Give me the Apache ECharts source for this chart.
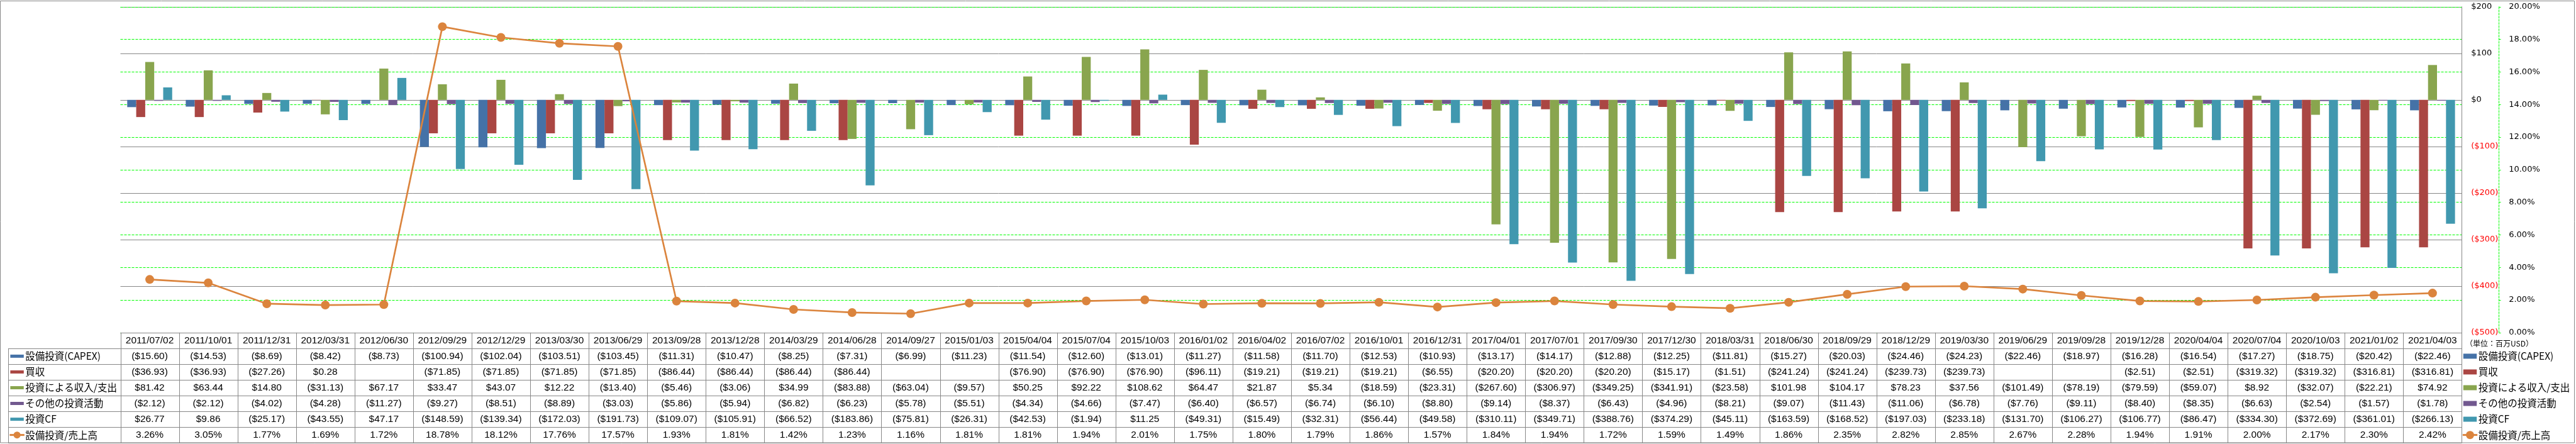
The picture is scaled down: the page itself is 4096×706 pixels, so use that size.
<!DOCTYPE html>
<html><head><meta charset="utf-8">
<script src="https://cdn.jsdelivr.net/npm/echarts@6/dist/echarts.min.js"></script>
<style>html,body{margin:0;padding:0;background:#fff;}#c{width:4096px;height:706px;}</style>
</head><body><div id="c"></div>
<script>
// ---------- data ----------
const categories = ['2011/07/02','2011/10/01','2011/12/31','2012/03/31','2012/06/30','2012/09/29','2012/12/29','2013/03/30','2013/06/29','2013/09/28',
  '2013/12/28','2014/03/29','2014/06/28','2014/09/27','2015/01/03','2015/04/04','2015/07/04','2015/10/03','2016/01/02','2016/04/02',
  '2016/07/02','2016/10/01','2016/12/31','2017/04/01','2017/07/01','2017/09/30','2017/12/30','2018/03/31','2018/06/30','2018/09/29',
  '2018/12/29','2019/03/30','2019/06/29','2019/09/28','2019/12/28','2020/04/04','2020/07/04','2020/10/03','2021/01/02','2021/04/03'];
const capex = [-15.60,-14.53,-8.69,-8.42,-8.73,-100.94,-102.04,-103.51,-103.45,-11.31,
  -10.47,-8.25,-7.31,-6.99,-11.23,-11.54,-12.60,-13.01,-11.27,-11.58,
  -11.70,-12.53,-10.93,-13.17,-14.17,-12.88,-12.25,-11.81,-15.27,-20.03,
  -24.46,-24.23,-22.46,-18.97,-16.28,-16.54,-17.27,-18.75,-20.42,-22.46];
const acquisitions = [-36.93,-36.93,-27.26,0.28,null,-71.85,-71.85,-71.85,-71.85,-86.44,
  -86.44,-86.44,-86.44,null,null,-76.90,-76.90,-76.90,-96.11,-19.21,
  -19.21,-19.21,-6.55,-20.20,-20.20,-20.20,-15.17,-1.51,-241.24,-241.24,
  -239.73,-239.73,null,null,-2.51,-2.51,-319.32,-319.32,-316.81,-316.81];
const investIncome = [81.42,63.44,14.80,-31.13,67.17,33.47,43.07,12.22,-13.40,-5.46,
  -3.06,34.99,-83.88,-63.04,-9.57,50.25,92.22,108.62,64.47,21.87,
  5.34,-18.59,-23.31,-267.60,-306.97,-349.25,-341.91,-23.58,101.98,104.17,
  78.23,37.56,-101.49,-78.19,-79.59,-59.07,8.92,-32.07,-22.21,74.92];
const otherInvest = [-2.12,-2.12,-4.02,-4.28,-11.27,-9.27,-8.51,-8.89,-3.03,-5.86,
  -5.94,-6.82,-6.23,-5.78,-5.51,-4.34,-4.66,-7.47,-6.40,-6.57,
  -6.74,-6.10,-8.80,-9.14,-8.37,-6.43,-4.96,-8.21,-9.07,-11.43,
  -11.06,-6.78,-7.76,-9.11,-8.40,-8.35,-6.63,-2.54,-1.57,-1.78];
const investCF = [26.77,9.86,-25.17,-43.55,47.17,-148.59,-139.34,-172.03,-191.73,-109.07,
  -105.91,-66.52,-183.86,-75.81,-26.31,-42.53,-1.94,11.25,-49.31,-15.49,
  -32.31,-56.44,-49.58,-310.11,-349.71,-388.76,-374.29,-45.11,-163.59,-168.52,
  -197.03,-233.18,-131.70,-106.27,-106.77,-86.47,-334.30,-372.69,-361.01,-266.13];
const capexRatio = [3.26,3.05,1.77,1.69,1.72,18.78,18.12,17.76,17.57,1.93,
  1.81,1.42,1.23,1.16,1.81,1.81,1.94,2.01,1.75,1.80,
  1.79,1.86,1.57,1.84,1.94,1.72,1.59,1.49,1.86,2.35,
  2.82,2.85,2.67,2.28,1.94,1.91,2.00,2.17,2.30,2.42];
const seriesNames = ['設備投資(CAPEX)','買収','投資による収入/支出','その他の投資活動','投資CF','設備投資/売上高'];
const unitLabel = '（単位：百万USD）';
const moneyAxis = {min:-500, max:200, interval:100};
const ratioAxis = {min:0, max:20, interval:2};

// ---------- style ----------
const colors = ['#4572A7','#AA4643','#89A54E','#71588F','#4198AF','#DB843D'];
const GRID = {left:191.5, top:10.8, width:3722.9, height:518};
const ROW_H = 25.05;
const TABLE_FONT = '"Liberation Sans",Arial,sans-serif';
const CJK_FONT = '"Noto Sans CJK JP","Noto Sans",sans-serif';
const GRAY = '#878787';

function fmtMoney(v){
  if (v === null || v === undefined) return '';
  return v < 0 ? '($' + (-v).toFixed(2) + ')' : '$' + v.toFixed(2);
}

const chart = echarts.init(document.getElementById('c'));
const barSeriesData = [capex, acquisitions, investIncome, otherInvest, investCF];
const series = barSeriesData.map((d, i) => ({
  name: seriesNames[i], type: 'bar', yAxisIndex: 0, data: d,
  barWidth: 14.3, barGap: '0%', itemStyle: {color: colors[i]}
}));
series.push({
  name: seriesNames[5], type: 'line', yAxisIndex: 1, data: capexRatio,
  symbol: 'circle', symbolSize: 14, z: 5,
  lineStyle: {color: colors[5], width: 2.7},
  itemStyle: {color: colors[5]}
});

chart.setOption({
  animation: false,
  grid: Object.assign({containLabel: false}, GRID),
  xAxis: {type: 'category', data: categories,
    axisLine: {show: false}, axisTick: {show: false}, axisLabel: {show: false}, splitLine: {show: false}},
  yAxis: [
    {type: 'value', position: 'right', min: moneyAxis.min, max: moneyAxis.max, interval: moneyAxis.interval,
      axisLine: {show: true, lineStyle: {color: GRAY, width: 1}}, axisTick: {show: false},
      axisLabel: {margin: 14.8, fontFamily: 'DejaVu Sans', fontSize: 13, color: '#000',
        formatter: v => v < 0 ? '{n|($' + (-v) + ')}' : '$' + v,
        rich: {n: {color: '#FF0000', fontFamily: 'DejaVu Sans', fontSize: 13}}},
      splitLine: {show: true, lineStyle: {color: GRAY, width: 1}}},
    {type: 'value', position: 'right', offset: 59.1, min: ratioAxis.min, max: ratioAxis.max, interval: ratioAxis.interval,
      axisLine: {show: true, lineStyle: {color: '#00FF00', width: 1, type: [3, 2]}},
      axisTick: {show: true, length: 3, inside: false, lineStyle: {color: '#00FF00'}},
      axisLabel: {margin: 15.7, fontFamily: 'DejaVu Sans', fontSize: 13, color: '#000',
        formatter: v => v.toFixed(2) + '%'},
      splitLine: {show: true, lineStyle: {color: '#00FF00', width: 1, type: [4, 2]}}}
  ],
  series: series
});

// ---------- data table + legends ----------
const els = [];
const c0 = chart.convertToPixel({xAxisIndex: 0}, 0);
const c1 = chart.convertToPixel({xAxisIndex: 0}, 1);
const colW = c1 - c0;
const tableTop = chart.convertToPixel({yAxisIndex: 0}, moneyAxis.min);
const plotLeft = GRID.left, plotRight = GRID.left + GRID.width;
const legendLeft = 13.2;
const nRows = 7;
const tableBottom = tableTop + nRows * ROW_H;
const crisp = v => Math.round(v) + 0.5;
function line(x1, y1, x2, y2, color, w, extra){
  els.push(Object.assign({type: 'line', shape: {x1, y1, x2, y2}, style: {stroke: color, lineWidth: w || 1}, silent: true}, extra || {}));
}
for (let r = 0; r <= nRows; r++) {
  const y = crisp(tableTop + r * ROW_H);
  line(r === 0 ? plotLeft : legendLeft, y, plotRight, y, GRAY, 1);
}
for (let k = 0; k <= categories.length; k++) {
  const x = crisp(plotLeft + k * colW);
  line(x, tableTop, x, tableBottom, GRAY, 1);
}
line(crisp(legendLeft), tableTop + ROW_H, crisp(legendLeft), tableBottom, GRAY, 1);

const rowsData = [capex, acquisitions, investIncome, otherInvest, investCF];
function text(t, x, y, font, align, color){
  els.push({type: 'text', silent: true, style: {text: t, x, y, font, align: align || 'center', verticalAlign: 'middle', fill: color || '#000'}});
}
const valFont = '15.5px ' + TABLE_FONT;
categories.forEach((cat, i) => {
  const cx = chart.convertToPixel({xAxisIndex: 0}, i);
  text(cat, cx, tableTop + ROW_H * 0.5, valFont);
  rowsData.forEach((arr, r) => text(fmtMoney(arr[i]), cx, tableTop + ROW_H * (r + 1.5), valFont));
  text(capexRatio[i].toFixed(2) + '%', cx, tableTop + ROW_H * 6.5, valFont);
});

const legFont = '15.5px ' + CJK_FONT;
function legendEntry(idx, keyX, keyW, barH, circR, textX, cy){
  if (idx < 5) {
    els.push({type: 'rect', silent: true, shape: {x: keyX, y: cy - barH / 2, width: keyW, height: barH}, style: {fill: colors[idx]}});
  } else {
    line(keyX - 1, cy, keyX + keyW + 1, cy, colors[5], 3);
    els.push({type: 'circle', silent: true, shape: {cx: keyX + keyW / 2, cy: cy, r: circR}, style: {fill: colors[5]}});
  }
  text(seriesNames[idx], textX, cy, legFont, 'left');
}
for (let i = 0; i < 6; i++) {
  const cy = tableTop + ROW_H * (i + 1.5);
  legendEntry(i, 16.4, 21.4, 5, 5.5, 40.3, cy);
  legendEntry(i, 3916.8, 21.4, 8, 6.5, 3940.7, cy);
}
text(unitLabel, 3920, tableTop + ROW_H * 0.72, '12px ' + CJK_FONT, 'left');

els.push({type: 'rect', silent: true, shape: {x: 0.5, y: 1.5, width: 4093, height: 702.5}, style: {fill: 'none', stroke: GRAY, lineWidth: 1}});

chart.setOption({graphic: {elements: els}});
</script>
</body></html>
